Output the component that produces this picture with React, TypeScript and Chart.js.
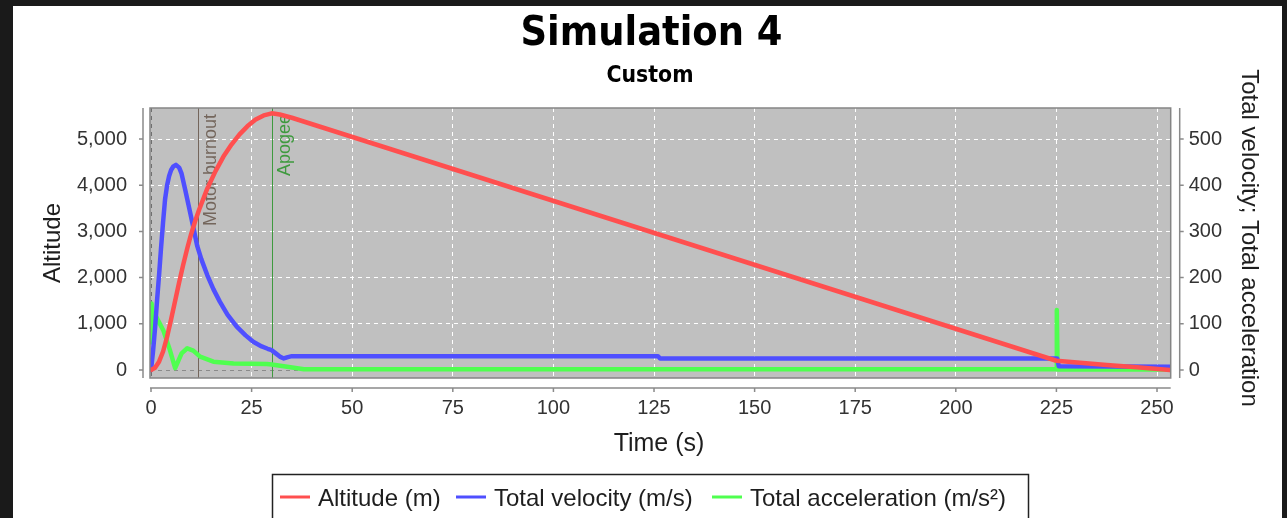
import { useEffect, useRef } from "react";
import { Chart, registerables } from "chart.js";

Chart.register(...registerables);

// ---------- data ----------
const altitudeTime = [0, 1, 2, 3, 4, 5, 6, 7, 8, 9, 10, 11, 12, 14, 16, 18, 20, 22, 24, 26, 28, 30, 32, 35, 225, 237.5, 245, 253.2];
const altitudeValues = [0, 50, 180, 400, 720, 1100, 1500, 1900, 2280, 2630, 2950, 3230, 3480, 3930, 4300, 4620, 4880, 5100, 5280, 5420, 5510, 5556, 5530, 5460, 200, 110, 58, 0];

const velocityTime = [0, 0.5, 1, 1.5, 2, 2.5, 3, 3.5, 4, 4.5, 5, 5.5, 6.2, 7, 7.6, 8.5, 9.5, 10.6, 11.5, 12.5, 14, 15.5, 17.1, 19, 21.3, 23.5, 25.4, 27.5, 29, 30, 31, 32, 33, 34, 35, 126, 126.5, 225.2, 225.6, 253.4];
const velocityValues = [0, 40, 90, 150, 205, 265, 320, 370, 400, 420, 433, 440, 444, 438, 425, 390, 350, 305, 268, 240, 205, 175, 148, 120, 94, 75, 61, 51, 46, 43, 36, 29, 25, 28, 30, 30, 25, 25, 8, 7];

const accelerationTime = [0, 0.15, 0.45, 1.3, 3.1, 4.7, 6.0, 7.6, 9.0, 10.5, 12.2, 15.5, 20.5, 28.8, 30, 33, 38, 225, 225.1, 225.3, 253.4];
const accelerationValues = [60, 144, 70, 115, 85, 43, 4, 36, 47, 42, 29, 18, 14, 13, 12, 8, 1.5, 1.5, 130, 1, 1];

const seriesLabels = ["Altitude (m)", "Total velocity (m/s)", "Total acceleration (m/s²)"];
const seriesColors = ["#ff4f4f", "#4f4fff", "#4fff4f"];

const eventNames = ["Motor burnout", "Apogee"];
const eventTimes = [11.6, 30.0];
const eventColors = ["#74665c", "#3f9a3f"];

const xTicks = [0, 25, 50, 75, 100, 125, 150, 175, 200, 225, 250];
const leftTicks = [0, 1000, 2000, 3000, 4000, 5000];
const rightTicks = [0, 100, 200, 300, 400, 500];

// image offset of the canvas (dark frame)
const OX = 13;
const OY = 6;

function fitText(ctx: CanvasRenderingContext2D, text: string, cx: number, by: number, font: string, targetW: number) {
  ctx.save();
  ctx.font = font;
  const w = ctx.measureText(text).width;
  ctx.translate(cx, by);
  ctx.scale(targetW / w, 1);
  ctx.textAlign = "center";
  ctx.textBaseline = "alphabetic";
  ctx.fillText(text, 0, 0);
  ctx.restore();
}

const decorPlugin = {
  id: "decor",
  beforeDraw(chart: any) {
    const { ctx, chartArea: a } = chart;
    ctx.save();
    ctx.fillStyle = "#ffffff";
    ctx.fillRect(0, 0, chart.width, chart.height);
    ctx.fillStyle = "#c0c0c0";
    ctx.fillRect(a.left, a.top, a.right - a.left, a.bottom - a.top);
    ctx.restore();
  },
  beforeDatasetsDraw(chart: any) {
    const { ctx, chartArea: a, scales } = chart;
    ctx.save();
    eventTimes.forEach((t, i) => {
      const x = Math.round(scales.x.getPixelForValue(t)) + 0.5;
      ctx.strokeStyle = eventColors[i];
      ctx.lineWidth = 1;
      ctx.beginPath();
      ctx.moveTo(x, a.top);
      ctx.lineTo(x, a.bottom);
      ctx.stroke();
      ctx.save();
      ctx.translate(x + 17, a.top + 6);
      ctx.rotate(-Math.PI / 2);
      ctx.font = '18px "Liberation Sans"';
      ctx.fillStyle = eventColors[i];
      ctx.textAlign = "right";
      ctx.textBaseline = "alphabetic";
      ctx.fillText(eventNames[i], 0, 0);
      ctx.restore();
    });
    ctx.restore();
  },
  afterDatasetsDraw(chart: any) {
    const { ctx, chartArea: a, scales } = chart;
    ctx.save();
    // plot outline
    ctx.strokeStyle = "#858585";
    ctx.lineWidth = 1.5;
    ctx.strokeRect(a.left, a.top, a.right - a.left, a.bottom - a.top);

    // offset axes
    ctx.strokeStyle = "#8a8a8a";
    ctx.lineWidth = 1.5;
    const lx = a.left - 7;
    const rx = a.right + 9;
    const by = a.bottom + 10;
    ctx.beginPath();
    ctx.moveTo(lx, a.top);
    ctx.lineTo(lx, a.bottom);
    ctx.moveTo(rx, a.top);
    ctx.lineTo(rx, a.bottom);
    ctx.moveTo(a.left, by);
    ctx.lineTo(a.right, by);
    scales.y.ticks.forEach((tk: any) => {
      const y = scales.y.getPixelForValue(tk.value);
      ctx.moveTo(lx - 4, y);
      ctx.lineTo(lx, y);
    });
    scales.y1.ticks.forEach((tk: any) => {
      const y = scales.y1.getPixelForValue(tk.value);
      ctx.moveTo(rx, y);
      ctx.lineTo(rx + 4, y);
    });
    scales.x.ticks.forEach((tk: any) => {
      const x = scales.x.getPixelForValue(tk.value);
      ctx.moveTo(x, by);
      ctx.lineTo(x, by + 4);
    });
    ctx.stroke();

    // titles (image coordinates)
    ctx.translate(-OX, -OY);
    ctx.fillStyle = "#000000";
    fitText(ctx, "Simulation 4", 651.5, 45, 'bold 41px "DejaVu Sans"', 262);
    fitText(ctx, "Custom", 650, 81.5, 'bold 23px "DejaVu Sans"', 87);

    ctx.fillStyle = "#1e1e1e";
    ctx.font = '25px "Liberation Sans"';
    ctx.textAlign = "center";
    ctx.textBaseline = "alphabetic";
    ctx.fillText("Time (s)", 659, 451);

    ctx.save();
    ctx.translate(60, 243);
    ctx.rotate(-Math.PI / 2);
    ctx.font = '24px "Liberation Sans"';
    ctx.fillText("Altitude", 0, 0);
    ctx.restore();

    ctx.save();
    ctx.translate(1242, 238);
    ctx.rotate(Math.PI / 2);
    ctx.font = '24px "Liberation Sans"';
    ctx.fillText("Total velocity; Total acceleration", 0, 0);
    ctx.restore();

    // legend
    ctx.strokeStyle = "#222222";
    ctx.lineWidth = 1.5;
    ctx.strokeRect(272.5, 474.5, 756, 60);
    const sampleX = [280, 456, 712];
    const textX = [318, 494, 750];
    ctx.font = '24px "Liberation Sans"';
    ctx.textAlign = "left";
    chart.data.datasets.forEach((ds: any, i: number) => {
      ctx.strokeStyle = ds.borderColor;
      ctx.lineWidth = 3;
      ctx.beginPath();
      ctx.moveTo(sampleX[i], 497);
      ctx.lineTo(sampleX[i] + 30, 497);
      ctx.stroke();
      ctx.fillStyle = "#1e1e1e";
      ctx.fillText(ds.label, textX[i], 506);
    });
    ctx.restore();
  },
};

const tickFont = { family: '"Liberation Sans"', size: 20 };
const setTicks = (vals: number[]) => (s: any) => {
  s.ticks = vals.map((v) => ({ value: v }));
};

export default function App() {
  const ref = useRef<HTMLCanvasElement | null>(null);

  useEffect(() => {
    const canvas = ref.current;
    if (!canvas) return;
    const mk = (ts: number[], vs: number[]) => ts.map((t, i) => ({ x: t, y: vs[i] }));
    const chart = new Chart(canvas, {
      type: "line",
      data: {
        datasets: [
          { label: seriesLabels[0], data: mk(altitudeTime, altitudeValues), borderColor: seriesColors[0], yAxisID: "y" },
          { label: seriesLabels[1], data: mk(velocityTime, velocityValues), borderColor: seriesColors[1], yAxisID: "y1" },
          { label: seriesLabels[2], data: mk(accelerationTime, accelerationValues), borderColor: seriesColors[2], yAxisID: "y1" },
        ],
      },
      options: {
        responsive: false,
        animation: false,
        layout: { padding: { top: 102, left: 0, right: 0, bottom: 0 } },
        elements: {
          point: { radius: 0 },
          line: { borderWidth: 4.5, tension: 0, borderJoinStyle: "round", borderCapStyle: "round" },
        },
        plugins: { legend: { display: false }, tooltip: { enabled: false }, title: { display: false } },
        scales: {
          x: {
            type: "linear",
            min: -0.25,
            max: 253.4,
            afterFit: (s: any) => { s.height = 140; },
            afterBuildTicks: setTicks(xTicks),
            ticks: { font: tickFont, color: "#333", padding: 18, maxRotation: 0, autoSkip: false },
            grid: {
              drawTicks: false,
              color: (c: any) => (c.tick && c.tick.value === 0 ? "#707070" : "#ffffff"),
              lineWidth: 1,
            },
            border: { display: false, dash: [4, 4] },
          },
          y: {
            type: "linear",
            position: "left",
            min: -173,
            max: 5671,
            afterFit: (s: any) => { s.width = 137; },
            afterBuildTicks: setTicks(leftTicks),
            ticks: {
              font: tickFont,
              color: "#333",
              padding: 23,
              autoSkip: false,
              callback: (v: any) => Number(v).toLocaleString("en-US"),
            },
            grid: {
              drawTicks: false,
              color: (c: any) => (c.tick && c.tick.value === 0 ? "#8a8a8a" : "#ffffff"),
              lineWidth: 1,
            },
            border: { display: false, dash: [4, 4] },
          },
          y1: {
            type: "linear",
            position: "right",
            min: -17.3,
            max: 567.1,
            afterFit: (s: any) => { s.width = 111.3; },
            afterBuildTicks: setTicks(rightTicks),
            ticks: { font: tickFont, color: "#333", padding: 18, autoSkip: false },
            grid: { drawTicks: false, drawOnChartArea: false },
            border: { display: false },
          },
        },
      },
      plugins: [decorPlugin],
    } as any);
    return () => chart.destroy();
  }, []);

  return (
    <div style={{ position: "absolute", left: 0, top: 0, width: 1287, height: 518, background: "#1a1a1a", overflow: "hidden" }}>
      <div style={{ position: "absolute", left: OX, top: OY, width: 1269, height: 512, background: "#fff" }}>
        <canvas ref={ref} width={1269} height={512} style={{ width: 1269, height: 512, display: "block" }} />
      </div>
    </div>
  );
}
